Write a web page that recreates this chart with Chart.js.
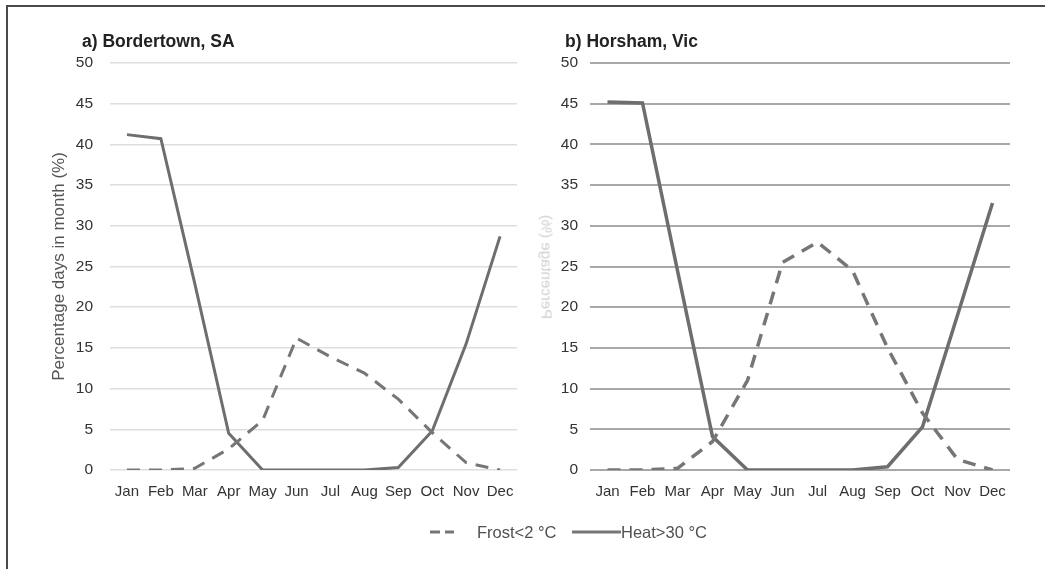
<!DOCTYPE html>
<html>
<head>
<meta charset="utf-8">
<script src="https://cdn.jsdelivr.net/npm/chart.js@4.4.1/dist/chart.umd.min.js"></script>
<style>
  html, body { margin: 0; padding: 0; background: #ffffff; }
  body { width: 1045px; height: 569px; position: relative; overflow: hidden; font-family: "Liberation Sans", Arial, sans-serif; }
  .frame { position: absolute; left: 6px; top: 5px; width: 1100px; height: 700px; border-left: 2px solid #4a4a4a; border-top: 2px solid #4a4a4a; }
  canvas { position: absolute; top: 0; }
  .ptitle { position: absolute; top: 33px; font-weight: bold; font-size: 17.5px; line-height: 17px; color: #222; white-space: nowrap; }
  .ghost { position: absolute; left: 547px; top: 267px; font-size: 15px; color: #d0d0d0; white-space: nowrap; transform: translate(-50%, -50%) rotate(-90deg) scaleY(-1); }
  .legend { position: absolute; top: 523px; height: 18px; font-size: 16.5px; line-height: 18px; color: #505050; white-space: nowrap; }
</style>
</head>
<body>
<div class="frame"></div>
<canvas id="c1" width="530" height="569" style="left:0px;width:530px;height:569px"></canvas>
<canvas id="c2" width="515" height="569" style="left:530px;width:515px;height:569px"></canvas>
<div class="ptitle" style="left:82px">a) Bordertown, SA</div>
<div class="ptitle" style="left:565px">b) Horsham, Vic</div>
<div class="ghost">Percentage (%)</div>

<svg style="position:absolute;left:428px;top:526px" width="28" height="12"><line x1="2" y1="6" x2="26" y2="6" stroke="#767676" stroke-width="3" stroke-dasharray="10,5"/></svg>
<div class="legend" style="left:477px">Frost&lt;2 °C</div>
<svg style="position:absolute;left:570px;top:526px" width="52" height="12"><line x1="2" y1="6" x2="51" y2="6" stroke="#767676" stroke-width="3"/></svg>
<div class="legend" style="left:621px">Heat&gt;30 °C</div>

<script>
// ---- data ----
const months = ['Jan','Feb','Mar','Apr','May','Jun','Jul','Aug','Sep','Oct','Nov','Dec'];
const yTicks = [0, 5, 10, 15, 20, 25, 30, 35, 40, 45, 50];

const bordertownFrost = [0, 0, 0.2, 2.6, 6.1, 16.2, 13.9, 11.9, 8.7, 4.6, 0.9, 0];
const bordertownHeat  = [41.2, 40.7, 22.9, 4.5, 0, 0, 0, 0, 0.3, 4.8, 15.5, 28.7];

const horshamFrost = [0, 0, 0.2, 3.5, 11.0, 25.5, 28.0, 24.5, 15.0, 7.0, 1.3, 0];
const horshamHeat  = [45.2, 45.1, 24.5, 4.1, 0, 0, 0, 0, 0.4, 5.3, 19.0, 32.8];

const seriesNames = ['Frost<2 °C', 'Heat>30 °C'];

Chart.defaults.font.family = '"Liberation Sans", Arial, sans-serif';

function makeChart(id, frost, heat, cfg) {
  return new Chart(document.getElementById(id), {
    type: 'line',
    data: {
      labels: months,
      datasets: [
        { label: seriesNames[0], data: frost, borderColor: '#767676', borderWidth: cfg.lw,
          borderDash: [13, 9], pointRadius: 0, tension: 0, fill: false },
        { label: seriesNames[1], data: heat, borderColor: '#6e6e6e', borderWidth: cfg.lw,
          pointRadius: 0, tension: 0, fill: false }
      ]
    },
    options: {
      responsive: false,
      animation: false,
      devicePixelRatio: 1,
      layout: { padding: { left: cfg.padLeft, right: cfg.padRight, top: 63, bottom: 0 } },
      plugins: { legend: { display: false }, tooltip: { enabled: false }, title: { display: false } },
      scales: {
        x: {
          offset: true,
          grid: { display: false, drawTicks: false },
          border: { display: false },
          ticks: { color: '#333333', font: { size: 15 }, padding: 13, maxRotation: 0, autoSkip: false },
          afterFit: (s) => { s.height = 99; }
        },
        y: {
          min: 0, max: 50,
          afterBuildTicks: (s) => { s.ticks = yTicks.map(v => ({ value: v })); },
          grid: { color: cfg.gridColor, lineWidth: cfg.gridWidth, drawTicks: false },
          border: { display: false },
          ticks: { color: '#333333', font: { size: 15.5 }, padding: cfg.tickPad },
          title: cfg.yTitle ? { display: true, text: cfg.yTitle, color: '#555555', font: { size: 17 }, padding: 0 } : { display: false },
          afterFit: (s) => { s.width = cfg.axisW; }
        }
      }
    }
  });
}

makeChart('c1', bordertownFrost, bordertownHeat, {
  padLeft: 49, axisW: 61, padRight: 13, tickPad: 17,
  gridColor: '#dedede', gridWidth: 1.5, lw: 3,
  yTitle: 'Percentage days in month (%)'
});
makeChart('c2', horshamFrost, horshamHeat, {
  padLeft: 10, axisW: 50, padRight: 35, tickPad: 12,
  gridColor: '#a8a8a8', gridWidth: 2, lw: 3.5,
  yTitle: null
});
</script>
</body>
</html>
